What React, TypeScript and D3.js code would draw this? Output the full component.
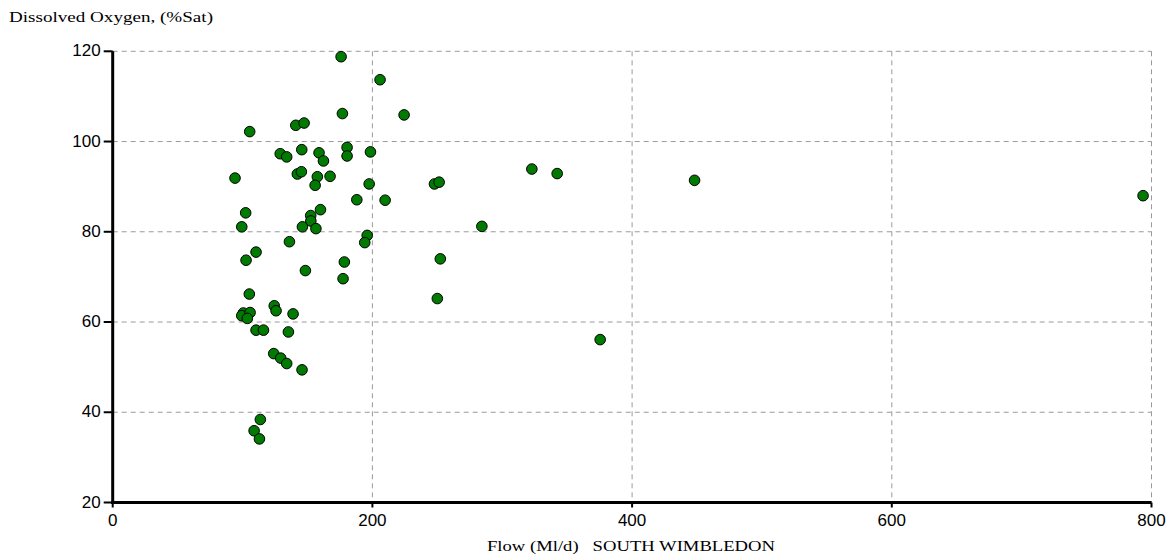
import React from "react";
import * as d3 from "d3";

// Flow (Ml/d) against dissolved oxygen (%Sat), South Wimbledon
const flow: number[] = [
  94.2, 105.5, 102.4, 99.4, 102.7, 110.4, 105.2, 100.6, 99.4, 105.8,
  103.7, 110.4, 116.1, 124.4, 125.8, 124.0, 129.4, 134.0, 145.8, 138.9,
  135.3, 113.7, 108.9, 113.0, 175.9, 205.9, 176.9, 224.4, 141.0, 147.4,
  129.0, 134.0, 145.6, 158.9, 162.3, 180.5, 180.5, 198.5, 142.2, 145.3,
  157.6, 155.9, 167.4, 197.5, 247.8, 251.4, 188.0, 209.8, 160.0, 152.5,
  152.6, 146.1, 156.5, 196.0, 194.1, 136.1, 178.4, 148.4, 177.4, 252.3,
  250.0, 322.8, 342.3, 448.1, 284.3, 375.4, 793.5,
];
const oxygen: number[] = [
  91.9, 102.2, 84.2, 81.1, 73.7, 75.5, 66.2, 62.0, 61.4, 62.1,
  60.8, 58.2, 58.2, 63.6, 62.5, 53.0, 52.0, 50.8, 49.4, 61.8,
  57.8, 38.4, 35.9, 34.1, 118.8, 113.7, 106.2, 105.9, 103.6, 104.1,
  97.3, 96.6, 98.2, 97.5, 95.7, 98.7, 96.8, 97.7, 92.8, 93.3,
  92.2, 90.3, 92.3, 90.6, 90.6, 91.0, 87.1, 87.0, 84.9, 83.6,
  82.4, 81.1, 80.7, 79.2, 77.6, 77.8, 73.3, 71.4, 69.6, 74.0,
  65.2, 93.9, 92.9, 91.4, 81.2, 56.1, 88.0,
];
const xTicks: number[] = [0, 200, 400, 600, 800];
const yTicks: number[] = [20, 40, 60, 80, 100, 120];
const yTitle = "Dissolved Oxygen, (%Sat)";
const xTitle = "Flow (Ml/d)   SOUTH WIMBLEDON";

export default function App() {
  const W = 1171;
  const H = 559;
  const x = d3.scaleLinear().domain([0, 800]).range([112.7, 1151.5]);
  const y = d3.scaleLinear().domain([20, 120]).range([502.5, 51.3]);
  const points = flow.map((f, i) => ({ f, o: oxygen[i] }));
  const tickFont = "'Liberation Sans Narrow', 'Liberation Sans', Arial, sans-serif";
  const titleFont = "'Liberation Serif', 'Times New Roman', serif";
  const grid = "#9a9a9a";

  return (
    <svg
      width={W}
      height={H}
      style={{ position: "absolute", left: 0, top: 0, background: "#fff" }}
    >
      <rect width={W} height={H} fill="#ffffff" />
      {/* dashed grid */}
      {yTicks
        .filter((t) => t !== 20)
        .map((t) => (
          <line
            key={"gy" + t}
            x1={x(0)}
            x2={x(800)}
            y1={y(t)}
            y2={y(t)}
            stroke={grid}
            strokeWidth={1}
            strokeDasharray="5,4"
          />
        ))}
      {xTicks
        .filter((t) => t !== 0)
        .map((t) => (
          <line
            key={"gx" + t}
            x1={x(t)}
            x2={x(t)}
            y1={y(120)}
            y2={y(20)}
            stroke={grid}
            strokeWidth={1}
            strokeDasharray="5,4"
          />
        ))}

      {/* axes */}
      <line x1={x(0)} x2={x(0)} y1={y(120)} y2={y(20) + 1.5} stroke="#000" strokeWidth={3} />
      <line x1={x(0) - 1.5} x2={x(800)} y1={y(20)} y2={y(20)} stroke="#000" strokeWidth={3} />
      {yTicks.map((t) => (
        <g key={"ty" + t}>
          <line x1={x(0) - 9} x2={x(0)} y1={y(t)} y2={y(t)} stroke="#000" strokeWidth={2} />
          <text
            x={x(0) - 12}
            y={y(t) + 5}
            textAnchor="end"
            fontFamily={tickFont}
            fontSize={17}
            fill="#000"
          >
            {t}
          </text>
        </g>
      ))}
      {xTicks.map((t) => (
        <g key={"tx" + t}>
          <line x1={x(t)} x2={x(t)} y1={y(20)} y2={y(20) + 5} stroke="#000" strokeWidth={2} />
          <text
            x={x(t)}
            y={y(20) + 23}
            textAnchor="middle"
            fontFamily={tickFont}
            fontSize={17}
            fill="#000"
          >
            {t}
          </text>
        </g>
      ))}

      {/* titles */}
      <text
        x={9}
        y={22}
        fontFamily={titleFont}
        fontSize={15}
        textLength={204}
        lengthAdjust="spacingAndGlyphs"
        fill="#000"
      >
        {yTitle}
      </text>
      <text
        x={487}
        y={551}
        fontFamily={titleFont}
        fontSize={15}
        textLength={288}
        lengthAdjust="spacingAndGlyphs"
        fill="#000"
        style={{ whiteSpace: "pre" }}
      >
        {xTitle}
      </text>

      {/* observations */}
      {points.map((p, i) => (
        <circle
          key={i}
          cx={x(p.f)}
          cy={y(p.o)}
          r={5.3}
          fill="#007a00"
          stroke="#000"
          strokeWidth={1}
        />
      ))}
    </svg>
  );
}
